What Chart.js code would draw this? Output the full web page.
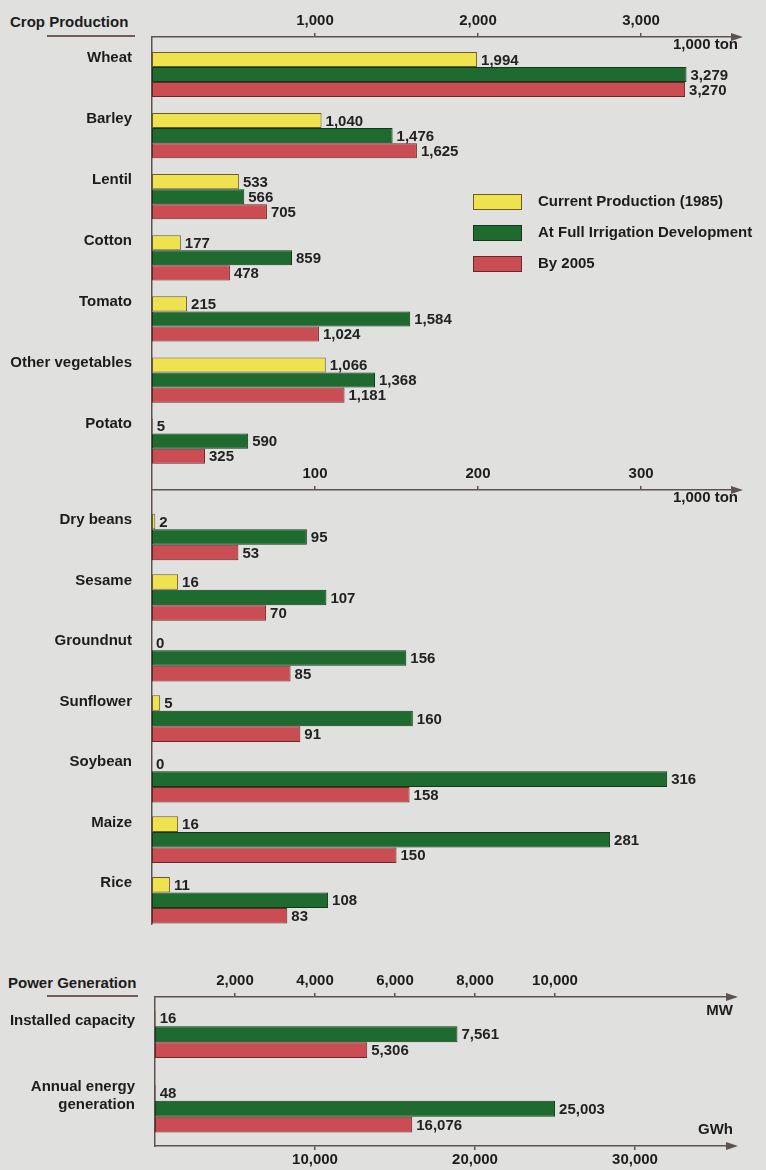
<!DOCTYPE html>
<html lang="en">
<head>
  <meta charset="UTF-8" />
  <title>Crop Production and Power Generation</title>
  <script src="https://cdn.jsdelivr.net/npm/chart.js"></script>
  <style>
    body { margin: 0; background: #e0e0df; font-family: "Liberation Sans", Arial, sans-serif; color: #1c1c1c; }
    #page { position: relative; width: 766px; height: 1170px; overflow: hidden; }
    .panel { position: absolute; left: 0; width: 766px; }
    .title { position: absolute; font-weight: bold; font-size: 15px; line-height: 17px; }
    .rule { position: absolute; height: 2px; background: #75585a; }
    .legend { position: absolute; left: 473px; font-weight: bold; font-size: 15px; line-height: 16px; }
    .legend .row { position: absolute; left: 0; white-space: nowrap; }
    .legend .box { display: inline-block; width: 47px; height: 14px; border: 1px solid; vertical-align: top; }
    .legend .txt { position: absolute; left: 65px; top: -1px; }
  </style>
</head>
<body>
<div id="page">
  <div class="title" style="left:10px; top:13px;">Crop Production</div>
  <div class="rule" style="left:47px; top:35px; width:88px;"></div>
  <div class="title" style="left:8px; top:974px;">Power Generation</div>
  <div class="rule" style="left:47px; top:995px; width:91px;"></div>

  <div class="panel" style="top:0; height:490px;"><canvas id="cropA"></canvas></div>
  <div class="panel" style="top:450px; height:475px;"><canvas id="cropB"></canvas></div>
  <div class="panel" style="top:960px; height:210px;"><canvas id="power"></canvas></div>

  <div class="legend" id="legend" style="top:194px;"></div>
</div>

<script>
  // --- data ---
  const seriesNames = ['Current Production (1985)', 'At Full Irrigation Development', 'By 2005'];

  const cropLabelsA = ['Wheat', 'Barley', 'Lentil', 'Cotton', 'Tomato', 'Other vegetables', 'Potato'];
  const currentA = [1994, 1040, 533, 177, 215, 1066, 5];
  const fullIrrA = [3279, 1476, 566, 859, 1584, 1368, 590];
  const by2005A  = [3270, 1625, 705, 478, 1024, 1181, 325];
  const ticksA = [1000, 2000, 3000];

  const cropLabelsB = ['Dry beans', 'Sesame', 'Groundnut', 'Sunflower', 'Soybean', 'Maize', 'Rice'];
  const currentB = [2, 16, 0, 5, 0, 16, 11];
  const fullIrrB = [95, 107, 156, 160, 316, 281, 108];
  const by2005B  = [53, 70, 85, 91, 158, 150, 83];
  const ticksB = [100, 200, 300];

  const powerLabels = ['Installed capacity', ['Annual energy', 'generation']];
  const powerCurrent = [16, 48];        // MW, GWh
  const powerFull    = [7561, 25003];
  const power2005    = [5306, 16076];
  const ticksMW  = [2000, 4000, 6000, 8000, 10000];
  const ticksGWh = [10000, 20000, 30000];

  // --- styles ---
  const fills   = ['#efe24f', '#1f6a2f', '#c94d52'];
  const borders = ['#6d5b2c', '#11391a', '#6a2728'];
  const axisColor = '#5e5250';
  const FONT = '"Liberation Sans", Arial, sans-serif';

  // legend (html)
  const legend = document.getElementById('legend');
  seriesNames.forEach((name, i) => {
    const row = document.createElement('div');
    row.className = 'row';
    row.style.top = (i * 31) + 'px';
    row.innerHTML = '<span class="box" style="background:' + fills[i] + ';border-color:' + borders[i] + '"></span>' +
                    '<span class="txt">' + name + '</span>';
    legend.appendChild(row);
  });

  // values at bar ends
  const valueLabels = {
    id: 'valueLabels',
    afterDatasetsDraw(chart) {
      const ctx = chart.ctx;
      ctx.save();
      ctx.font = 'bold 15px ' + FONT;
      ctx.fillStyle = '#222';
      ctx.textBaseline = 'middle';
      ctx.textAlign = 'left';
      chart.data.datasets.forEach((ds, i) => {
        chart.getDatasetMeta(i).data.forEach((bar, j) => {
          const v = ds.data[j];
          if (v === null || v === undefined) return;
          ctx.fillText(v.toLocaleString('en-US'), bar.x + 4, bar.y + 1);
        });
      });
      ctx.restore();
    }
  };

  // arrow heads + unit captions
  const axisDecor = {
    id: 'axisDecor',
    afterDraw(chart, args, opts) {
      const ctx = chart.ctx;
      ctx.save();
      (opts.arrows || []).forEach(id => {
        const s = chart.scales[id];
        const y = s.position === 'top' ? s.bottom : s.top;
        const x = s.right;
        ctx.fillStyle = axisColor;
        ctx.beginPath();
        ctx.moveTo(x + 3, y);
        ctx.lineTo(x - 9, y - 4);
        ctx.lineTo(x - 9, y + 4);
        ctx.closePath();
        ctx.fill();
      });
      (opts.units || []).forEach(u => {
        const s = chart.scales[u.axis];
        const y = (s.position === 'top' ? s.bottom : s.top) + u.dy;
        ctx.font = 'bold 15px ' + FONT;
        ctx.fillStyle = '#1c1c1c';
        ctx.textAlign = 'right';
        ctx.textBaseline = 'middle';
        ctx.fillText(u.text, s.right - 2, y);
      });
      ctx.restore();
    }
  };

  Chart.register(valueLabels, axisDecor);

  function barSet(i, data, extra) {
    return Object.assign({
      label: seriesNames[i],
      data: data,
      backgroundColor: fills[i],
      borderColor: borders[i],
      borderWidth: 1,
      borderSkipped: false
    }, extra || {});
  }

  function xAxis(position, max, tickVals, height, pad) {
    return {
      type: 'linear',
      position: position,
      min: 0,
      max: max,
      afterBuildTicks: s => { s.ticks = tickVals.map(v => ({ value: v })); },
      afterFit: s => { s.height = height; },
      grid: { display: true, drawOnChartArea: false, drawTicks: true, tickLength: 4, color: axisColor, lineWidth: 1.5 },
      border: { display: true, color: axisColor, width: 1.5 },
      ticks: { color: '#1c1c1c', padding: pad, maxRotation: 0, font: { family: FONT, size: 15, weight: 'bold' } }
    };
  }

  function yAxis(width, win, lblOffset) {
    const ax = {
      type: 'category',
      afterFit: s => { s.width = width; s.paddingTop = 0; s.paddingBottom = 0; },
      grid: { display: false, drawTicks: false, tickLength: 0 },
      border: { display: true, color: axisColor, width: 1.5 },
      ticks: { color: '#1c1c1c', padding: 20, labelOffset: lblOffset, autoSkip: false,
               font: { family: FONT, size: 15, weight: 'bold' } }
    };
    if (win) {
      // visible index window (first bar group sits a bit lower than half a step)
      ax.afterBuildTicks = s => { s._startValue = win[0]; s._valueRange = win[1] - win[0]; };
    }
    return ax;
  }

  function cropChart(id, labels, a, b, c, max, tickVals, topH, win, catPct) {
    return new Chart(document.getElementById(id), {
      type: 'bar',
      data: {
        labels: labels,
        datasets: [barSet(0, a), barSet(1, b), barSet(2, c)]
      },
      options: {
        indexAxis: 'y',
        responsive: true,
        maintainAspectRatio: false,
        animation: false,
        locale: 'en-US',
        datasets: { bar: { categoryPercentage: catPct, barPercentage: 1 } },
        layout: { padding: { left: 0, right: 26, top: 0, bottom: 0 } },
        scales: {
          x: xAxis('top', max, tickVals, topH, 3),
          y: yAxis(152, win, -17)
        },
        plugins: {
          legend: { display: false },
          tooltip: { enabled: false },
          axisDecor: { arrows: ['x'], units: [{ axis: 'x', text: '1,000 ton', dy: 8 }] }
        }
      }
    });
  }

  cropChart('cropA', cropLabelsA, currentA, fullIrrA, by2005A, 3607, ticksA, 37, [-0.614, 6.80], 0.74);
  cropChart('cropB', cropLabelsB, currentB, fullIrrB, by2005B, 360.7, ticksB, 40, [-0.777, 6.41], 0.77);

  // power: capacity on MW axis, energy on GWh axis
  const onMW  = v => [v[0], null];
  const onGWh = v => [null, v[1]];
  new Chart(document.getElementById('power'), {
    type: 'bar',
    data: {
      labels: powerLabels,
      datasets: [
        barSet(0, onMW(powerCurrent), { xAxisID: 'xMW' }),
        barSet(1, onMW(powerFull), { xAxisID: 'xMW' }),
        barSet(2, onMW(power2005), { xAxisID: 'xMW' }),
        barSet(0, onGWh(powerCurrent), { xAxisID: 'xGWh' }),
        barSet(1, onGWh(powerFull), { xAxisID: 'xGWh' }),
        barSet(2, onGWh(power2005), { xAxisID: 'xGWh' })
      ]
    },
    options: {
      indexAxis: 'y',
      responsive: true,
      maintainAspectRatio: false,
      animation: false,
      locale: 'en-US',
      datasets: { bar: { categoryPercentage: 0.64, barPercentage: 1, skipNull: true } },
      layout: { padding: { left: 0, right: 31, top: 0, bottom: 0 } },
      scales: {
        xMW: xAxis('top', 14500, ticksMW, 37, 3),
        xGWh: xAxis('bottom', 36250, ticksGWh, 24, 1),
        y: yAxis(155, null, -13)
      },
      plugins: {
        legend: { display: false },
        tooltip: { enabled: false },
        axisDecor: {
          arrows: ['xMW', 'xGWh'],
          units: [{ axis: 'xMW', text: 'MW', dy: 14 }, { axis: 'xGWh', text: 'GWh', dy: -16 }]
        }
      }
    }
  });
</script>
</body>
</html>
